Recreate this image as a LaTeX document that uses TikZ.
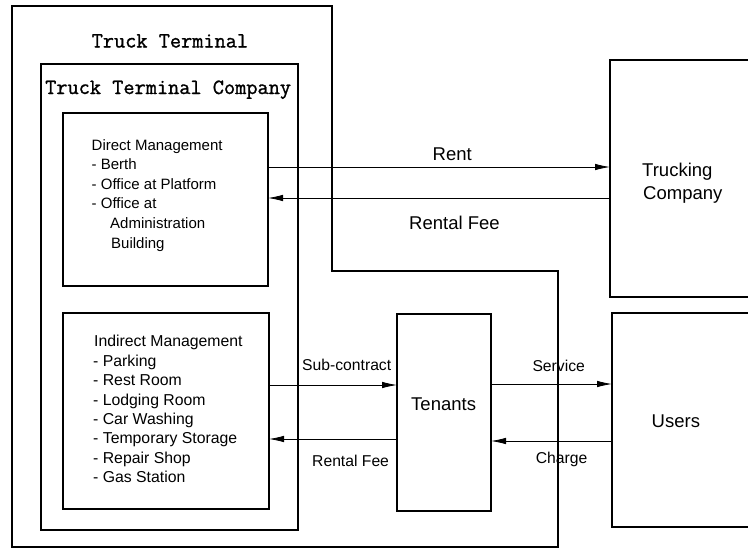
\documentclass[tikz,border=0pt]{standalone}
\usepackage{fontspec}
\setmainfont{Liberation Sans}
\newfontfamily\monofont[FakeBold=1.2]{Latin Modern Mono}
\usetikzlibrary{arrows.meta}
\tikzset{
  box/.style={draw, line width=1.1pt, rectangle, inner sep=0pt, outer sep=0pt},
  bound/.style={draw, line width=1.1pt},
  arr/.style={line width=0.8pt, -{Latex[length=15pt,width=6.5pt]}},
  title/.style={font=\monofont\fontsize{21.7}{24}\selectfont, anchor=base west, inner sep=0pt},
  big/.style={font=\fontsize{18.5}{22}\selectfont, anchor=base west, inner sep=0pt},
  mid/.style={font=\fontsize{15.7}{19}\selectfont, anchor=base west, inner sep=0pt},
  dlist/.style={font=\fontsize{15}{18}\selectfont, anchor=base west, inner sep=0pt},
  ilist/.style={font=\fontsize{15.8}{19}\selectfont, anchor=base west, inner sep=0pt}
}
\begin{document}
\begin{tikzpicture}[x=1pt,y=-1pt]
\clip (0,0) rectangle (748,549);
\fill[white] (0,0) rectangle (748,549);

% outer Truck Terminal boundary
\draw[bound] (12,6) -- (332,6) -- (332,271) -- (558,271) -- (558,547) -- (12,547) -- cycle;
\node[title] (tt) at (91.5,47.5) {Truck Terminal};

% company box
\node[box, minimum width=257pt, minimum height=466pt] (comp) at (169.5,297) {};
\node[title] (ttc) at (45,94) {Truck Terminal Company};

% direct management
\node[box, minimum width=205pt, minimum height=173pt] (direct) at (165.5,199.5) {};
\node[dlist] (d1) at (91.5,150) {Direct Management};
\node[dlist] (d2) at (91.5,169.6) {- Berth};
\node[dlist] (d3) at (91.5,189.2) {- Office at Platform};
\node[dlist] (d4) at (91.5,208.8) {- Office at};
\node[dlist] (d5) at (110,228.4) {Administration};
\node[dlist] (d6) at (111,248) {Building};

% indirect management
\node[box, minimum width=206pt, minimum height=196pt] (indirect) at (166,411) {};
\node[ilist] (i1) at (94,346.7) {Indirect Management};
\node[ilist] (i2) at (93,366.1) {- Parking};
\node[ilist] (i3) at (93,385.6) {- Rest Room};
\node[ilist] (i4) at (93,405.0) {- Lodging Room};
\node[ilist] (i5) at (93,424.4) {- Car Washing};
\node[ilist] (i6) at (93,443.9) {- Temporary Storage};
\node[ilist] (i7) at (93,463.3) {- Repair Shop};
\node[ilist] (i8) at (93,482.7) {- Gas Station};

% tenants
\node[box, minimum width=94pt, minimum height=197pt] (tenants) at (444,412.5) {};
\node[big] (tent) at (411,410) {Tenants};

% trucking company
\node[box, minimum width=160pt, minimum height=237pt] (trk) at (690,178.5) {};
\node[big] (trk1) at (642,176) {Trucking};
\node[big] (trk2) at (643,199) {Company};

% users
\node[box, minimum width=158pt, minimum height=214pt] (users) at (691,420) {};
\node[big] (usr) at (651.5,427) {Users};

% connectors upper
\coordinate (rentA) at ([yshift=32.5pt]direct.east);
\coordinate (feeA) at ([yshift=1.5pt]direct.east);
\draw[arr] (rentA) -- (rentA -| trk.west);
\draw[arr] (feeA -| trk.west) -- (feeA);
\node[big] (lrent) at (432.5,160) {Rent};
\node[big] (lfee) at (409,229) {Rental Fee};

% connectors lower
\coordinate (subA) at ([yshift=26pt]indirect.east);
\coordinate (rfB) at ([yshift=-28pt]indirect.east);
\draw[arr] (subA) -- (subA -| tenants.west);
\draw[arr] (rfB -| tenants.west) -- (rfB);
\node[mid] (lsub) at (302,370) {Sub-contract};
\node[mid] (lrf2) at (312,466.5) {Rental Fee};

\coordinate (svc) at ([yshift=28.5pt]tenants.east);
\coordinate (chg) at ([yshift=-28.5pt]tenants.east);
\draw[arr] (svc) -- (svc -| users.west);
\draw[arr] (chg -| users.west) -- (chg);
\node[mid] (lsvc) at (532.3,371.7) {Service};
\node[mid] (lchg) at (535.7,463) {Charge};
\end{tikzpicture}
\end{document}
